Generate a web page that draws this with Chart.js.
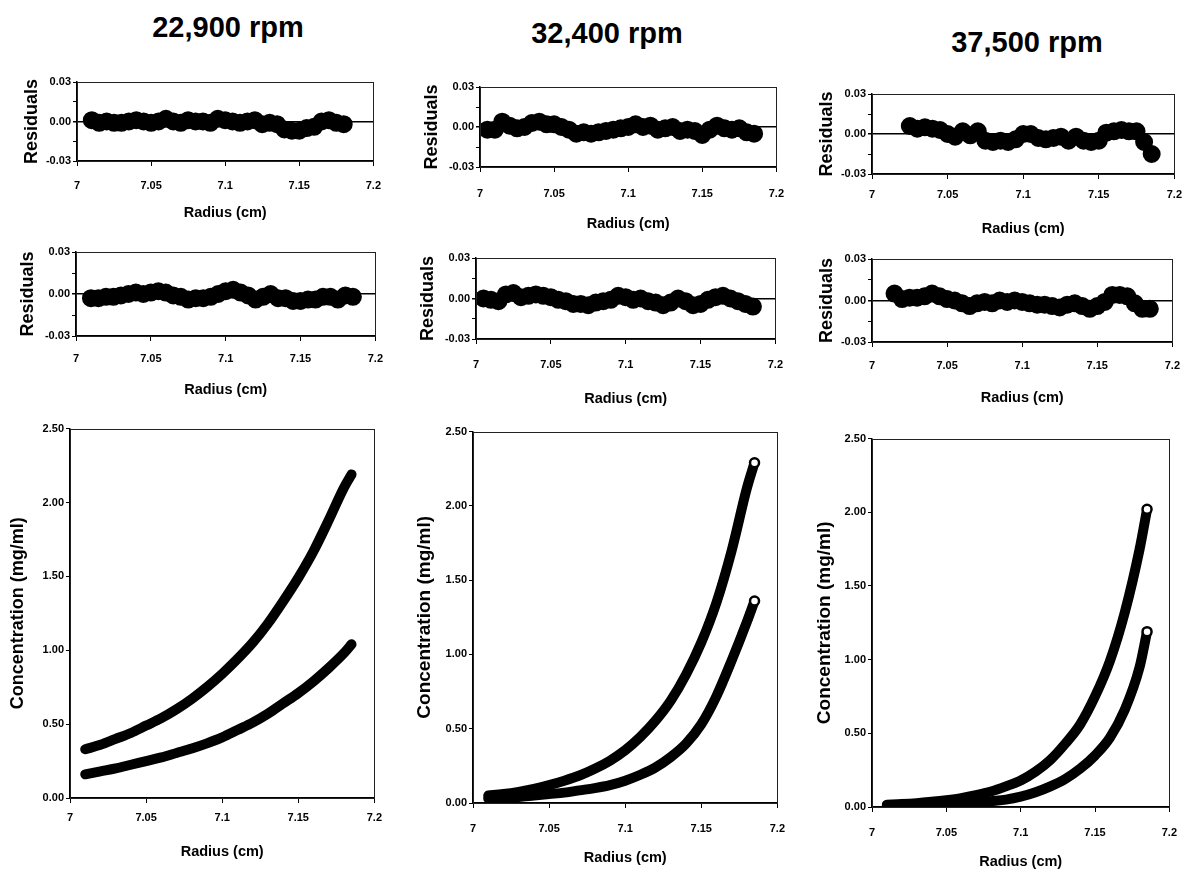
<!DOCTYPE html>
<html>
<head>
<meta charset="utf-8">
<title>Sedimentation equilibrium - residuals and concentration</title>
<script src="https://cdn.jsdelivr.net/npm/chart.js@4.4.0/dist/chart.umd.min.js"></script>
<style>
html, body { margin: 0; padding: 0; background: #fff; overflow: hidden; }
body { width: 1188px; height: 869px; position: relative; }
canvas { position: absolute; }
.speed {
    position: absolute;
    font-family: 'Liberation Sans', Arial, sans-serif;
    font-weight: bold;
    font-size: 29px;
    line-height: 29px;
    color: #000;
    white-space: nowrap;
    transform: translateX(-50%);
}
</style>
</head>
<body>
<div class="speed" style="left:228px;top:13px">22,900 rpm</div>
<div class="speed" style="left:607px;top:19px">32,400 rpm</div>
<div class="speed" style="left:1027px;top:28px">37,500 rpm</div>

<canvas id="res22900a"></canvas>
<canvas id="res32400a"></canvas>
<canvas id="res37500a"></canvas>
<canvas id="res22900b"></canvas>
<canvas id="res32400b"></canvas>
<canvas id="res37500b"></canvas>
<canvas id="conc22900"></canvas>
<canvas id="conc32400"></canvas>
<canvas id="conc37500"></canvas>

<script>
// radius grid of the residual panels (cm)
var residRadius = [7.005, 7.010, 7.015, 7.020, 7.025, 7.030, 7.035, 7.040, 7.045, 7.050,
    7.055, 7.060, 7.065, 7.070, 7.075, 7.080, 7.085, 7.090, 7.095, 7.100,
    7.105, 7.110, 7.115, 7.120, 7.125, 7.130, 7.135, 7.140, 7.145, 7.150,
    7.155, 7.160, 7.165, 7.170, 7.175, 7.180, 7.185];

// residuals (null = no data at that radius)
var resid22900a = [null, 0.001, -0.001, 0.000, -0.001, -0.001, 0.000, 0.001, 0.000, -0.001,
    0.000, 0.002, 0.000, -0.001, 0.001, 0.000, 0.000, -0.001, 0.002, 0.001,
    0.000, -0.001, 0.000, 0.001, -0.002, -0.001, -0.002, -0.006, -0.007, -0.007,
    -0.005, -0.004, 0.000, 0.001, -0.001, -0.002, null];
var resid32400a = [-0.002, -0.002, 0.004, 0.001, -0.001, 0.000, 0.003, 0.004, 0.002, 0.002,
    0.000, -0.002, -0.005, -0.004, -0.005, -0.004, -0.003, -0.002, -0.001, 0.000,
    0.002, 0.000, 0.001, -0.002, -0.001, 0.000, -0.003, -0.002, -0.003, -0.006,
    -0.002, 0.001, -0.001, -0.002, -0.001, -0.004, -0.005];
var resid37500a = [null, null, null, null, 0.006, 0.004, 0.005, 0.004, 0.003, 0.000,
    -0.002, 0.002, -0.001, 0.002, -0.005, -0.006, -0.005, -0.006, -0.004, 0.000,
    0.000, -0.003, -0.004, -0.003, -0.002, -0.005, -0.002, -0.005, -0.006, -0.005,
    0.001, 0.002, 0.003, 0.002, 0.002, -0.006, -0.015];
var resid22900b = [null, -0.003, -0.003, -0.002, -0.002, -0.001, 0.000, 0.001, 0.000, 0.001,
    0.002, 0.001, -0.001, -0.002, -0.004, -0.003, -0.003, -0.002, 0.000, 0.002,
    0.003, 0.001, -0.001, -0.004, -0.002, 0.000, -0.003, -0.003, -0.005, -0.005,
    -0.004, -0.004, -0.002, -0.002, -0.004, -0.001, -0.002];
var resid32400b = [0.000, -0.001, -0.002, 0.003, 0.004, 0.001, 0.002, 0.003, 0.002, 0.001,
    -0.001, -0.002, -0.004, -0.004, -0.005, -0.003, -0.002, -0.001, 0.002, 0.001,
    -0.001, 0.000, -0.002, -0.003, -0.005, -0.003, 0.000, -0.002, -0.005, -0.004,
    -0.001, 0.001, 0.002, 0.000, -0.002, -0.004, -0.006];
var resid37500b = [null, null, 0.005, 0.001, 0.002, 0.002, 0.003, 0.005, 0.003, 0.001,
    0.000, -0.002, -0.004, -0.002, -0.001, -0.002, 0.000, -0.001, 0.000, -0.001,
    -0.002, -0.003, -0.003, -0.004, -0.005, -0.003, -0.002, -0.004, -0.006, -0.004,
    -0.001, 0.004, 0.004, 0.003, -0.002, -0.006, -0.006];

// radius grid of the concentration panels (cm)
var concRadius = [7.010, 7.020, 7.030, 7.040, 7.050, 7.060, 7.070, 7.080, 7.090, 7.100,
    7.110, 7.120, 7.130, 7.140, 7.150, 7.160, 7.170, 7.180, 7.185];

// concentration (mg/ml), two loadings per speed
var conc22900hi = [0.33, 0.36, 0.40, 0.44, 0.49, 0.54, 0.60, 0.67, 0.75, 0.84,
    0.94, 1.05, 1.18, 1.33, 1.49, 1.67, 1.88, 2.10, 2.19];
var conc22900lo = [0.16, 0.18, 0.20, 0.225, 0.25, 0.275, 0.305, 0.335, 0.37, 0.41,
    0.46, 0.51, 0.57, 0.64, 0.71, 0.79, 0.88, 0.98, 1.04];
var conc32400hi = [0.05, 0.06, 0.075, 0.095, 0.12, 0.15, 0.185, 0.23, 0.285, 0.355,
    0.445, 0.555, 0.69, 0.865, 1.08, 1.35, 1.70, 2.12, 2.29];
var conc32400lo = [0.03, 0.035, 0.04, 0.05, 0.06, 0.07, 0.085, 0.10, 0.12, 0.15,
    0.19, 0.24, 0.31, 0.40, 0.53, 0.72, 0.96, 1.22, 1.36];
var conc37500hi = [0.016, 0.020, 0.026, 0.035, 0.046, 0.060, 0.080, 0.105, 0.14, 0.18,
    0.24, 0.32, 0.43, 0.56, 0.75, 0.99, 1.32, 1.75, 2.02];
var conc37500lo = [0.010, 0.010, 0.010, 0.015, 0.020, 0.025, 0.030, 0.040, 0.05, 0.07,
    0.10, 0.14, 0.19, 0.26, 0.35, 0.47, 0.66, 0.95, 1.19];

var xTickLabels = ['7', '7.05', '7.1', '7.15', '7.2'];
var residTickLabels = ['-0.03', '', '0.00', '', '0.03'];
var concTickLabels = ['0.00', '0.50', '1.00', '1.50', '2.00', '2.50'];

var narrow = "'Liberation Sans Narrow', 'Arial Narrow', 'Liberation Sans', Arial, sans-serif";
var wide = "'Liberation Sans', Arial, sans-serif";

Chart.defaults.color = '#000';
Chart.defaults.animation = false;

function toPoints(xs, ys) {
    var pts = [];
    for (var i = 0; i < xs.length; i++) {
        if (ys[i] !== null) pts.push({ x: xs[i], y: ys[i] });
    }
    return pts;
}

// thin frame round the plot area, like the Excel box
var framePlugin = {
    id: 'frame',
    afterDraw: function(chart) {
        var a = chart.chartArea;
        var ctx = chart.ctx;
        ctx.save();
        ctx.strokeStyle = '#222';
        ctx.lineWidth = 1;
        ctx.strokeRect(Math.round(a.left) + 0.5, Math.round(a.top) + 0.5,
            Math.round(a.right - a.left), Math.round(a.bottom - a.top));
        ctx.restore();
    }
};

function residSet(values) {
    return {
        data: toPoints(residRadius, values),
        showLine: true,
        borderColor: '#000',
        borderWidth: 10,
        borderCapStyle: 'round',
        borderJoinStyle: 'round',
        tension: 0.35,
        pointRadius: 4,
        pointBackgroundColor: '#000',
        pointBorderColor: '#000'
    };
}

function concSet(values, openEnd) {
    var n = toPoints(concRadius, values).length;
    var radii = [];
    for (var i = 0; i < n; i++) radii.push(openEnd && i === n - 1 ? 4.5 : 0);
    return {
        data: toPoints(concRadius, values),
        showLine: true,
        borderColor: '#000',
        borderWidth: 10,
        borderCapStyle: 'round',
        borderJoinStyle: 'round',
        cubicInterpolationMode: 'monotone',
        pointRadius: radii,
        pointBackgroundColor: '#fff',
        pointBorderColor: '#000',
        pointBorderWidth: 2.5
    };
}

function drawPanel(id, p, resid, datasets) {
    var yW = resid ? 60 : 64;
    var yFont = p.yFont;
    var lh = yFont * 1.2;
    var xH = p.titleOff + 9;
    var w = yW + (p.r - p.l) + 14;
    var h = 8 + (p.b - p.t) + xH;
    var canvas = document.getElementById(id);
    canvas.width = w;
    canvas.height = h;
    canvas.style.left = (p.l - yW) + 'px';
    canvas.style.top = (p.t - 8) + 'px';

    var yTicks = resid ? residTickLabels : concTickLabels;

    new Chart(canvas.getContext('2d'), {
        type: 'scatter',
        data: { datasets: datasets },
        options: {
            responsive: false,
            layout: { padding: { top: 8, right: 14, left: 0, bottom: 0 } },
            plugins: { legend: { display: false }, tooltip: { enabled: false } },
            scales: {
                x: {
                    type: 'linear',
                    min: 7,
                    max: 7.2,
                    ticks: {
                        stepSize: 0.05,
                        autoSkip: false,
                        maxRotation: 0,
                        padding: p.tickOff - 11,
                        font: { family: narrow, size: 11, weight: 'bold' },
                        callback: function(v) {
                            return xTickLabels[Math.round((v - 7) / 0.05)];
                        }
                    },
                    grid: { drawOnChartArea: false, tickLength: 5, tickColor: '#000' },
                    border: { color: '#000', width: 1.5 },
                    title: {
                        display: true,
                        text: 'Radius (cm)',
                        padding: 0,
                        font: { family: narrow, size: 14.5, weight: 'bold' }
                    },
                    afterFit: function(s) { s.height = xH; }
                },
                y: {
                    min: resid ? -0.03 : 0,
                    max: resid ? 0.03 : 2.5,
                    ticks: {
                        stepSize: resid ? 0.015 : 0.5,
                        autoSkip: false,
                        padding: 2,
                        font: { family: narrow, size: 11, weight: 'bold' },
                        callback: function(v) {
                            if (resid) return yTicks[Math.round((v + 0.03) / 0.015)];
                            return yTicks[Math.round(v / 0.5)];
                        }
                    },
                    grid: {
                        drawOnChartArea: resid,
                        tickLength: 4,
                        tickColor: '#000',
                        color: function(ctx) {
                            if (resid && ctx.tick && Math.abs(ctx.tick.value) < 1e-9) return '#000';
                            return 'rgba(0,0,0,0)';
                        },
                        lineWidth: function(ctx) {
                            if (resid && ctx.tick && Math.abs(ctx.tick.value) < 1e-9) return 1.5;
                            return 1;
                        }
                    },
                    border: { color: '#000', width: 1.5 },
                    title: {
                        display: true,
                        text: resid ? 'Residuals' : 'Concentration (mg/ml)',
                        padding: { top: yW - p.yTitleOff - lh / 2, bottom: 0 },
                        font: { family: wide, size: yFont, weight: 'bold' }
                    },
                    afterFit: function(s) { s.width = yW; }
                }
            }
        },
        plugins: [framePlugin]
    });
}

// panel placement on the page: plot box and label offsets
drawPanel('res22900a', { l: 77, t: 76, r: 380, b: 161, tickOff: 24, titleOff: 52, yTitleOff: 45, yFont: 18 }, true,
    [residSet(resid22900a)]);
drawPanel('res32400a', { l: 480, t: 81, r: 785, b: 167, tickOff: 26, titleOff: 57, yTitleOff: 48, yFont: 18 }, true,
    [residSet(resid32400a)]);
drawPanel('res37500a', { l: 872, t: 88, r: 1177, b: 174, tickOff: 20, titleOff: 55, yTitleOff: 45, yFont: 18 }, true,
    [residSet(resid37500a)]);
drawPanel('res22900b', { l: 76, t: 246, r: 380, b: 336, tickOff: 22, titleOff: 54, yTitleOff: 48, yFont: 18 }, true,
    [residSet(resid22900b)]);
drawPanel('res32400b', { l: 476, t: 252, r: 783, b: 339, tickOff: 25, titleOff: 60, yTitleOff: 48, yFont: 18 }, true,
    [residSet(resid32400b)]);
drawPanel('res37500b', { l: 872, t: 253, r: 1178, b: 342, tickOff: 23, titleOff: 56, yTitleOff: 45, yFont: 18 }, true,
    [residSet(resid37500b)]);
drawPanel('conc22900', { l: 70, t: 428, r: 376, b: 798, tickOff: 19, titleOff: 54, yTitleOff: 52, yFont: 18 }, false,
    [concSet(conc22900hi, false), concSet(conc22900lo, false)]);
drawPanel('conc32400', { l: 473, t: 431, r: 785, b: 803, tickOff: 25, titleOff: 55, yTitleOff: 48, yFont: 19 }, false,
    [concSet(conc32400hi, true), concSet(conc32400lo, true)]);
drawPanel('conc37500', { l: 872, t: 438, r: 1177, b: 807, tickOff: 25, titleOff: 55, yTitleOff: 47, yFont: 19 }, false,
    [concSet(conc37500hi, true), concSet(conc37500lo, true)]);
</script>
</body>
</html>
